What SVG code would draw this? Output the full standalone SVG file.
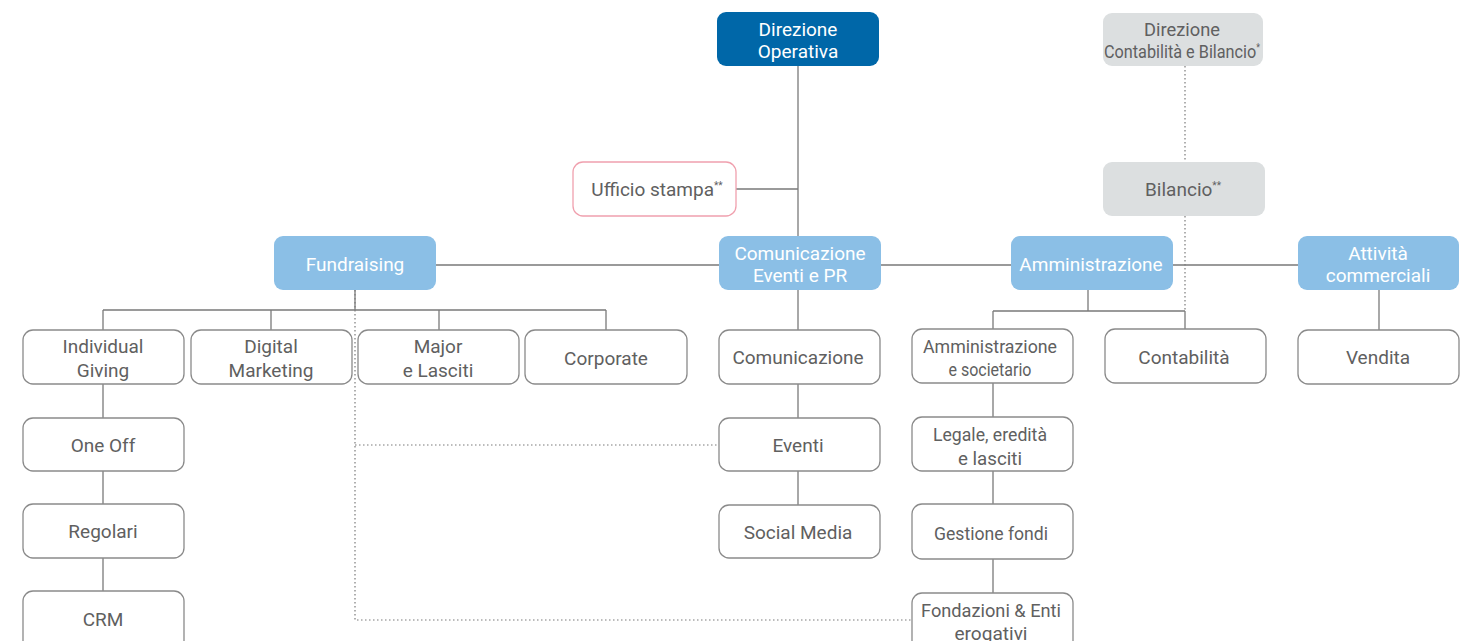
<svg xmlns="http://www.w3.org/2000/svg" width="1468" height="641" viewBox="0 0 1468 641">
<style>
text{font-family:Roboto,"Liberation Sans",sans-serif;font-size:19px;text-anchor:middle;fill:#606060}
.w{fill:#ffffff}
.box{fill:#ffffff;stroke:#8a8a8a;stroke-width:1.3}
.dark{fill:#0067a8}
.blue{fill:#8bbfe6}
.gray{fill:#dcdfe0}
.pink{fill:#ffffff;stroke:#f0a0ae;stroke-width:1.3}
.ln{stroke:#7a7a7a;stroke-width:1.3;fill:none}
.dt{stroke:#7a7a7a;stroke-width:1.2;fill:none;stroke-dasharray:1.5 2.5}
.sup{font-size:10px}
</style>
<rect width="1468" height="641" fill="#ffffff"/>
<g id="connectors">
<path class="ln" d="M798 66V236M736 189H798M436 265H719M881 265H1011M1173 265H1298"/>
<path class="ln" d="M355 290V310M103 310H606M103 310V330M271 310V330M439 310V330M606 310V330"/>
<path class="ln" d="M103 384V418M103 471V504M103 558V591"/>
<path class="ln" d="M798 290V330M798 384V418M798 471V505"/>
<path class="ln" d="M1088 290V311M993 311H1185M993 311V329M1185 311V329M993 383V417M993 471V504M993 559V593"/>
<path class="ln" d="M1379 290V330"/>
<path class="dt" d="M1185 66V162M1185 216V311"/>
<path class="dt" d="M355 290V620H912M355 445H719"/>
</g>
<g id="direzione-operativa"><rect class="dark" x="717" y="12" width="162" height="54" rx="9"/><text class="w" x="798" y="36">Direzione</text><text class="w" x="798" y="58">Operativa</text></g>
<g id="direzione-contabilita"><rect class="gray" x="1103" y="13" width="160" height="53" rx="9"/><text x="1182" y="36" textLength="76" lengthAdjust="spacingAndGlyphs">Direzione</text><text x="1182" y="58" textLength="156" lengthAdjust="spacingAndGlyphs">Contabilità e Bilancio<tspan class="sup" dy="-7">*</tspan></text></g>
<g id="ufficio-stampa"><rect class="pink" x="573" y="162" width="163" height="54" rx="10"/><text x="657" y="196">Ufficio stampa<tspan class="sup" dy="-7">**</tspan></text></g>
<g id="bilancio"><rect class="gray" x="1103" y="162" width="162" height="54" rx="9"/><text x="1183" y="196">Bilancio<tspan class="sup" dy="-7">**</tspan></text></g>
<g id="fundraising"><rect class="blue" x="274" y="236" width="162" height="54" rx="9"/><text class="w" x="355" y="271">Fundraising</text></g>
<g id="comunicazione-eventi-pr"><rect class="blue" x="719" y="236" width="162" height="54" rx="9"/><text class="w" x="800" y="260">Comunicazione</text><text class="w" x="800" y="282">Eventi e PR</text></g>
<g id="amministrazione"><rect class="blue" x="1011" y="236" width="162" height="54" rx="9"/><text class="w" x="1091" y="271">Amministrazione</text></g>
<g id="attivita-commerciali"><rect class="blue" x="1298" y="236" width="161" height="54" rx="9"/><text class="w" x="1378" y="260">Attività</text><text class="w" x="1378" y="282">commerciali</text></g>
<g id="individual-giving"><rect class="box" x="23" y="330" width="161" height="54" rx="10"/><text x="103" y="353">Individual</text><text x="103" y="377">Giving</text></g>
<g id="digital-marketing"><rect class="box" x="191" y="330" width="161" height="54" rx="10"/><text x="271" y="353">Digital</text><text x="271" y="377">Marketing</text></g>
<g id="major-lasciti"><rect class="box" x="358" y="330" width="161" height="54" rx="10"/><text x="438" y="353">Major</text><text x="438" y="377">e Lasciti</text></g>
<g id="corporate"><rect class="box" x="525" y="330" width="162" height="54" rx="10"/><text x="606" y="365">Corporate</text></g>
<g id="one-off"><rect class="box" x="23" y="418" width="161" height="53" rx="10"/><text x="103" y="452">One Off</text></g>
<g id="regolari"><rect class="box" x="23" y="504" width="161" height="54" rx="10"/><text x="103" y="538">Regolari</text></g>
<g id="crm"><rect class="box" x="23" y="591" width="161" height="60" rx="10"/><text x="103" y="626">CRM</text></g>
<g id="comunicazione"><rect class="box" x="719" y="330" width="161" height="54" rx="10"/><text x="798" y="364">Comunicazione</text></g>
<g id="eventi"><rect class="box" x="719" y="418" width="161" height="53" rx="10"/><text x="798" y="452">Eventi</text></g>
<g id="social-media"><rect class="box" x="719" y="505" width="161" height="53" rx="10"/><text x="798" y="539">Social Media</text></g>
<g id="amministrazione-societario"><rect class="box" x="912" y="329" width="161" height="54" rx="10"/><text x="990" y="353" textLength="134" lengthAdjust="spacingAndGlyphs">Amministrazione</text><text x="990" y="376" textLength="83" lengthAdjust="spacingAndGlyphs">e societario</text></g>
<g id="contabilita"><rect class="box" x="1105" y="329" width="161" height="54" rx="10"/><text x="1184" y="364">Contabilità</text></g>
<g id="vendita"><rect class="box" x="1298" y="330" width="161" height="54" rx="10"/><text x="1378" y="364">Vendita</text></g>
<g id="legale"><rect class="box" x="912" y="417" width="161" height="54" rx="10"/><text x="990" y="441" textLength="114" lengthAdjust="spacingAndGlyphs">Legale, eredità</text><text x="990" y="465" textLength="64" lengthAdjust="spacingAndGlyphs">e lasciti</text></g>
<g id="gestione-fondi"><rect class="box" x="912" y="504" width="161" height="55" rx="10"/><text x="991" y="540" textLength="114" lengthAdjust="spacingAndGlyphs">Gestione fondi</text></g>
<g id="fondazioni"><rect class="box" x="912" y="593" width="161" height="60" rx="10"/><text x="991" y="617" textLength="140" lengthAdjust="spacingAndGlyphs">Fondazioni &amp; Enti</text><text x="991" y="640" textLength="73" lengthAdjust="spacingAndGlyphs">erogativi</text></g>
</svg>
